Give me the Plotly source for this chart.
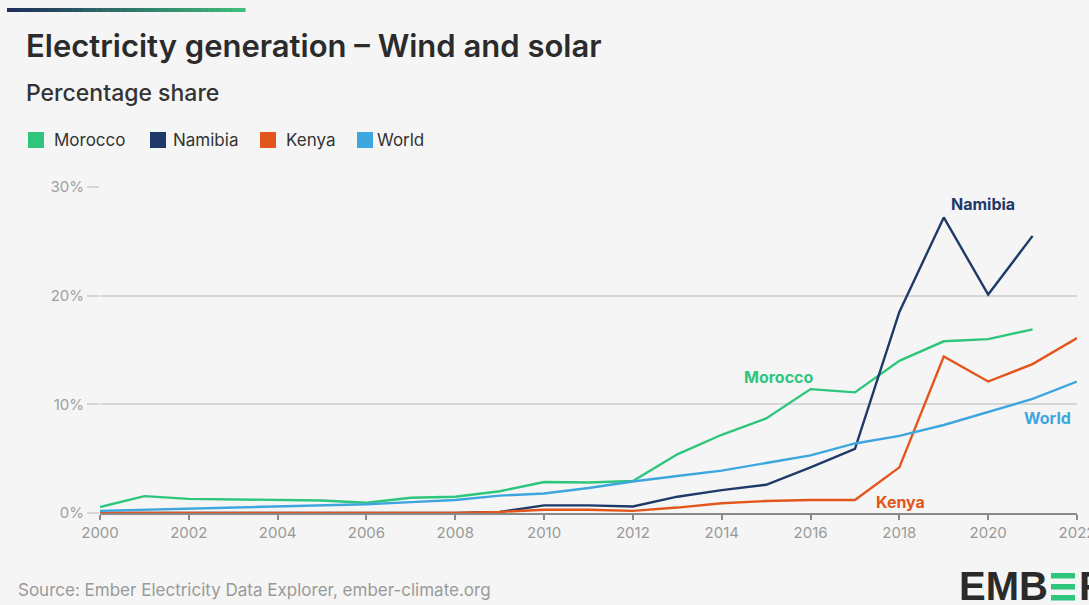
import plotly.graph_objects as go

years = list(range(2000, 2023))
morocco = [0.55, 1.55, 1.3, 1.25, 1.2, 1.15, 0.95, 1.4, 1.5, 2.0, 2.85, 2.8, 2.95, 5.4, 7.2, 8.7, 11.4, 11.1, 14.0, 15.8, 16.0, 16.9, None]
namibia = [0, 0, 0, 0, 0, 0, 0, 0, 0, 0.1, 0.7, 0.7, 0.6, 1.5, 2.1, 2.6, 4.2, 5.9, 18.5, 27.2, 20.1, 25.5, None]
kenya = [0, 0, 0, 0, 0, 0, 0, 0, 0, 0.1, 0.3, 0.3, 0.2, 0.5, 0.9, 1.1, 1.2, 1.2, 4.2, 14.4, 12.1, 13.7, 16.1]
world = [0.2, 0.3, 0.4, 0.5, 0.6, 0.7, 0.8, 1.0, 1.2, 1.6, 1.8, 2.3, 2.9, 3.4, 3.9, 4.6, 5.3, 6.4, 7.1, 8.1, 9.3, 10.5, 12.1]

series = [("Morocco", morocco, "#2ec67d"), ("Namibia", namibia, "#1f3a68"),
          ("Kenya", kenya, "#e2561c"), ("World", world, "#3ea6de")]
y_ticks = [0, 10, 20, 30]
y_tick_labels = ["0%", "10%", "20%", "30%"]
x_ticks = list(range(2000, 2023, 2))

BG = "#f5f5f5"
FONT = "Inter"
L, R, T, B = 100, 1077, 187, 513
W, H = R - L, B - T


def px(x):
    return (x - L) / W


def py(y):
    return (B - y) / H


fig = go.Figure()
for name, vals, col in series:
    fig.add_trace(go.Scatter(x=years, y=vals, mode="lines", name=name,
                             line=dict(color=col, width=2.4), connectgaps=False,
                             showlegend=False, hoverinfo="skip"))

shapes = []
annotations = []

# top gradient bar
c1 = (0x1f, 0x2f, 0x5a)
c2 = (0x3e, 0xbc, 0x7a)
n = 40
x0, x1 = 7, 245
for i in range(n):
    t = i / (n - 1)
    col = "rgb(%d,%d,%d)" % tuple(int(a + (b - a) * t) for a, b in zip(c1, c2))
    xa = x0 + (x1 - x0) * i / n
    xb = x0 + (x1 - x0) * (i + 1) / n + 0.5
    shapes.append(dict(type="rect", xref="paper", yref="paper", x0=px(xa), x1=px(xb),
                       y0=py(12), y1=py(8), fillcolor=col, line=dict(width=0), layer="above"))

# legend
leg = [(28, 52), (150, 171), (260, 284), (357, 375)]
for (sx, tx), (name, vals, col) in zip(leg, series):
    shapes.append(dict(type="rect", xref="paper", yref="paper", x0=px(sx), x1=px(sx + 16),
                       y0=py(148), y1=py(132), fillcolor=col, line=dict(width=0)))
    annotations.append(dict(text=name, xref="paper", yref="paper", x=px(tx), y=py(140),
                            xanchor="left", yanchor="middle", showarrow=False,
                            font=dict(family=FONT, size=17, color="#333333")))

annotations += [
    dict(text="Electricity generation – Wind and solar", xref="paper", yref="paper",
         x=px(24), y=py(45), xanchor="left", yanchor="middle", showarrow=False,
         font=dict(family=FONT, size=31, weight=600, color="#2b2b2b")),
    dict(text="Percentage share", xref="paper", yref="paper",
         x=px(24), y=py(93), xanchor="left", yanchor="middle", showarrow=False,
         font=dict(family=FONT, size=23, weight=500, color="#333333")),
    dict(text="Source: Ember Electricity Data Explorer, ember-climate.org", xref="paper", yref="paper",
         x=px(16), y=py(590), xanchor="left", yanchor="middle", showarrow=False,
         font=dict(family=FONT, size=17, color="#9a9a9a")),
    dict(text="<b>Namibia</b>", xref="paper", yref="paper", x=px(983), y=py(204),
         xanchor="center", yanchor="middle", showarrow=False,
         font=dict(family=FONT, size=16, color="#1f3a68")),
    dict(text="<b>Morocco</b>", xref="paper", yref="paper", x=px(778), y=py(377),
         xanchor="center", yanchor="middle", showarrow=False,
         font=dict(family=FONT, size=16, color="#2ec67d")),
    dict(text="<b>World</b>", xref="paper", yref="paper", x=px(1047), y=py(418),
         xanchor="center", yanchor="middle", showarrow=False,
         font=dict(family=FONT, size=16, color="#3ea6de")),
    dict(text="<b>Kenya</b>", xref="paper", yref="paper", x=px(900), y=py(502),
         xanchor="center", yanchor="middle", showarrow=False,
         font=dict(family=FONT, size=16, color="#e2561c")),
    dict(text="<b>EMB</b>", xref="paper", yref="paper", x=px(1050), y=py(586),
         xanchor="right", yanchor="middle", showarrow=False,
         font=dict(family="Liberation Sans", size=40, color="#2a2a2a")),
    dict(text="<b>R</b>", xref="paper", yref="paper", x=px(1077), y=py(586),
         xanchor="left", yanchor="middle", showarrow=False,
         font=dict(family="Liberation Sans", size=40, color="#2a2a2a")),
]
for yy in (573, 584, 595):
    shapes.append(dict(type="rect", xref="paper", yref="paper", x0=px(1051), x1=px(1075),
                       y0=py(yy + 5.5), y1=py(yy), fillcolor="#2ec67d", line=dict(width=0)))

fig.update_layout(
    width=1089, height=605, autosize=False,
    margin=dict(l=L, r=1089 - R, t=T, b=605 - B),
    paper_bgcolor=BG, plot_bgcolor=BG,
    shapes=shapes, annotations=annotations,
    font=dict(family=FONT),
    xaxis=dict(range=[2000, 2022], tickvals=x_ticks, ticktext=[str(v) for v in x_ticks],
               showgrid=False, zeroline=False, showline=True, linecolor="#8a8a8a", linewidth=2,
               ticks="outside", ticklen=5, tickcolor="#8a8a8a", tickwidth=1.5,
               ticklabeloverflow="allow", automargin=False,
               tickfont=dict(family=FONT, size=15, color="#9a9a9a")),
    yaxis=dict(range=[0, 30], tickvals=y_ticks, ticktext=y_tick_labels, automargin=False,
               showgrid=True, gridcolor="#d6d6d6", gridwidth=1.5, zeroline=False,
               ticks="outside", ticklen=12, tickcolor="#d6d6d6", tickwidth=1.5,
               tickfont=dict(family=FONT, size=15, color="#a0a0a0")),
)

fig.write_html("out.html")
